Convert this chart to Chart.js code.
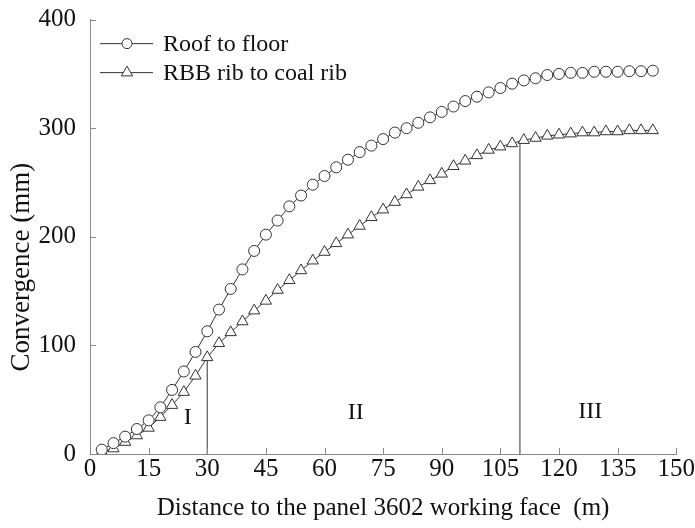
<!DOCTYPE html>
<html>
<head>
<meta charset="utf-8">
<script src="https://cdn.jsdelivr.net/npm/chart.js@4.4.1/dist/chart.umd.min.js"></script>
<style>
  html, body { margin: 0; padding: 0; background: #fff; }
  #wrap { width: 695px; height: 528px; }
</style>
</head>
<body>
<div id="wrap"><canvas id="myChart"></canvas></div>
<script>
// distance to working face (m)
const distance = [3, 6, 9, 12, 15, 18, 21, 24, 27, 30, 33, 36, 39, 42, 45, 48,
    51, 54, 57, 60, 63, 66, 69, 72, 75, 78, 81, 84, 87, 90, 93, 96,
    99, 102, 105, 108, 111, 114, 117, 120, 123, 126, 129, 132, 135, 138, 141, 144];

// convergence (mm)
const roofToFloor = [4, 10, 16, 23, 31, 43, 59, 76, 94, 113, 133, 152, 170, 187, 202, 215,
    228, 238, 248, 256, 264, 271, 278, 284, 290, 296, 300, 305, 310, 315, 320, 325,
    329, 333, 337, 341, 344, 346, 349, 350, 351, 351, 352, 352, 352, 352.5, 352.5, 353];

const ribToRib = [2, 5, 11, 17, 24, 34, 45, 57, 72, 89, 102, 112, 122, 132, 141, 151,
    160, 169, 178, 186, 194, 202, 210, 218, 225, 232, 239, 246, 252, 258, 265, 270,
    275, 280, 283, 286, 289, 291, 293, 294, 295, 296, 296, 297, 297, 298, 298, 298];

const seriesNames = ['Roof to floor', 'RBB rib to coal rib'];
const yTitle = 'Convergence (mm)';

// stage boundaries and stage labels
const boundaryX = [30, 110];
const boundaryTop = [89, 287];
const stageLabels = ['I', 'II', 'III'];
const stageX = [25, 68, 128];
const stageY = [33, 38, 39];

const xTicks = [0, 15, 30, 45, 60, 75, 90, 105, 120, 135, 150];
const yTicks = [0, 100, 200, 300, 400];

const FONT = "'Liberation Serif', 'Times New Roman', serif";
const INK = '#333';
const AXIS = '#8a8a8a';

function pts(xs, ys) {
    return xs.map((x, i) => ({ x: x, y: ys[i] }));
}

let datasets = [
    {
        label: seriesNames[0], data: pts(distance, roofToFloor),
        borderColor: INK, borderWidth: 1, backgroundColor: '#fff',
        pointStyle: 'circle', pointRadius: 5.5, pointBorderWidth: 1,
        pointBackgroundColor: '#fff', pointBorderColor: INK
    },
    {
        label: seriesNames[1], data: pts(distance, ribToRib),
        borderColor: INK, borderWidth: 1, backgroundColor: '#fff',
        pointStyle: 'triangle', pointRadius: 6.5, pointBorderWidth: 1,
        pointBackgroundColor: '#fff', pointBorderColor: INK
    }
];
boundaryX.forEach((bx, i) => {
    datasets.push({
        label: 'boundary', data: [{ x: bx, y: 0 }, { x: bx, y: boundaryTop[i] }],
        borderColor: '#555', borderWidth: 1.2, pointRadius: 0
    });
});

// inward ticks, stage labels, y title and legend
const decorations = {
    id: 'decorations',
    afterDraw(chart) {
        const c = chart.ctx;
        const xs = chart.scales.x, ys = chart.scales.y;
        const area = chart.chartArea;
        c.save();
        c.strokeStyle = AXIS;
        c.lineWidth = 1;
        xTicks.forEach(v => {
            const px = Math.round(xs.getPixelForValue(v)) + 0.5;
            c.beginPath(); c.moveTo(px, area.bottom); c.lineTo(px, area.bottom - 6); c.stroke();
        });
        yTicks.forEach(v => {
            const py = Math.round(ys.getPixelForValue(v)) + 0.5;
            c.beginPath(); c.moveTo(area.left, py); c.lineTo(area.left + 6, py); c.stroke();
        });

        c.fillStyle = '#111';
        c.font = '24px ' + FONT;
        c.textAlign = 'center';
        c.textBaseline = 'middle';
        stageLabels.forEach((t, i) => {
            c.fillText(t, xs.getPixelForValue(stageX[i]), ys.getPixelForValue(stageY[i]));
        });

        // y axis title, set a little below the middle as in the original
        c.save();
        c.font = '27px ' + FONT;
        c.translate(22, ys.getPixelForValue(172));
        c.rotate(-Math.PI / 2);
        c.fillText(yTitle, 0, 0);
        c.restore();

        // legend
        const shapes = ['circle', 'triangle'];
        const radii = [5, 6.5];
        c.font = '24px ' + FONT;
        c.textAlign = 'left';
        seriesNames.forEach((name, i) => {
            const y = area.top + 24 + i * 29;
            const x0 = area.left + 10;
            c.strokeStyle = INK;
            c.lineWidth = 1;
            c.beginPath(); c.moveTo(x0, y); c.lineTo(x0 + 53, y); c.stroke();
            c.fillStyle = '#fff';
            Chart.helpers.drawPoint(c, { pointStyle: shapes[i], radius: radii[i], borderWidth: 1, rotation: 0 }, x0 + 27, y);
            c.fillStyle = '#111';
            c.fillText(name, x0 + 63, y + 1);
        });
        c.restore();
    }
};

const ctx = document.getElementById('myChart');

let graphData = {
    type: 'line',
    data: { datasets: datasets },
    options: {
        responsive: true,
        maintainAspectRatio: false,
        animation: false,
        layout: { padding: { top: 6, right: 18, left: 0, bottom: 0 } },
        plugins: { legend: { display: false }, tooltip: { enabled: false } },
        scales: {
            x: {
                type: 'linear', min: 0, max: 150,
                afterFit: s => { s.height = 74; },
                afterBuildTicks: s => { s.ticks = xTicks.map(v => ({ value: v })); },
                grid: { display: false, drawTicks: false },
                border: { display: true, color: AXIS, width: 1 },
                ticks: { color: '#111', font: { family: FONT, size: 25 }, padding: 0, maxRotation: 0, autoSkip: false },
                title: {
                    display: true, text: 'Distance to the panel 3602 working face  (m)',
                    color: '#111', font: { family: FONT, size: 25 }, padding: { top: 0, bottom: 5 }
                }
            },
            y: {
                type: 'linear', min: 0, max: 400,
                afterFit: s => { s.width = 90; },
                afterBuildTicks: s => { s.ticks = yTicks.map(v => ({ value: v })); },
                grid: { display: false, drawTicks: false },
                border: { display: true, color: AXIS, width: 1 },
                ticks: { color: '#111', font: { family: FONT, size: 25, lineHeight: 0.45 }, padding: 14 },
                title: { display: false }
            }
        }
    },
    plugins: [decorations]
};

var myChart = new Chart(ctx, graphData);
</script>
</body>
</html>
